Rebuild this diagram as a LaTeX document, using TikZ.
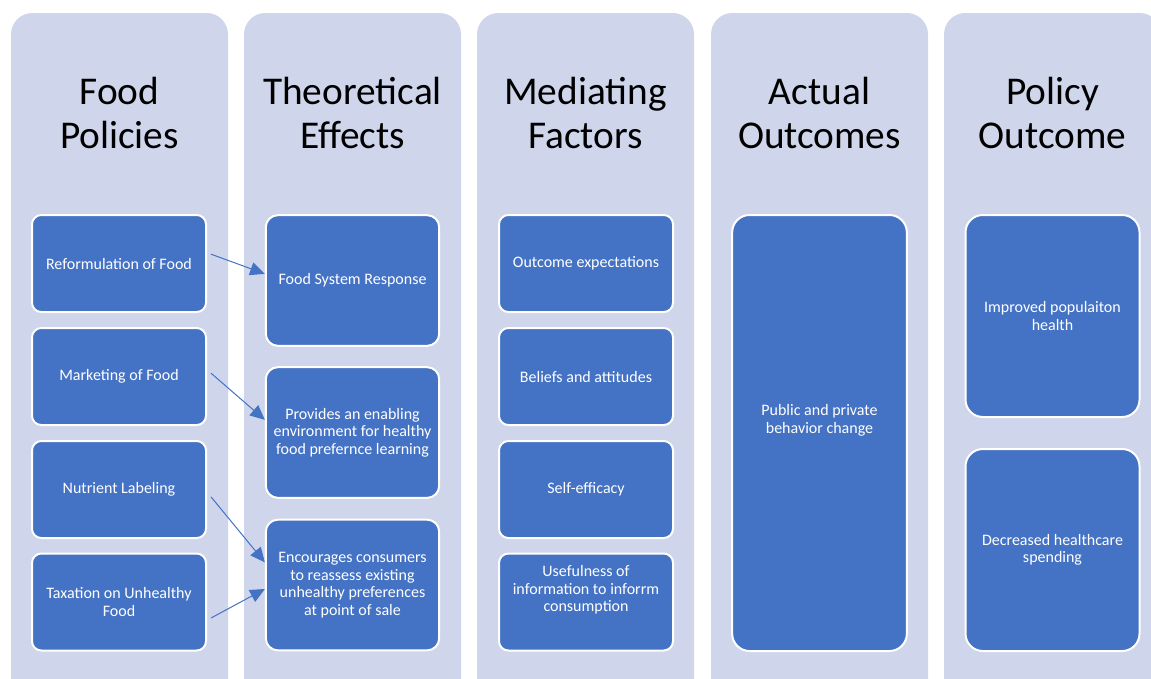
\documentclass[tikz,border=0pt]{standalone}
\usepackage{fontspec}
\setmainfont{Carlito}
\usetikzlibrary{arrows.meta}

\definecolor{colbg}{HTML}{CFD5EA}
\definecolor{boxblue}{HTML}{4472C4}

\begin{document}
\begin{tikzpicture}[x=.75pt,y=-.75pt,
    smallbox/.style={minimum width=130.5pt, minimum height=72.75pt, rounded corners=7pt},
    midbox/.style={minimum width=130pt, minimum height=98pt, rounded corners=9pt},
    tallbox/.style={minimum width=131pt, minimum height=327pt, rounded corners=13pt},
    halfbox/.style={minimum width=130.5pt, minimum height=151.5pt, rounded corners=13pt},
    raised/.style={draw=none, fill=none, yshift=#1}]

        \clip (0,0) rectangle (1151,678);

        \foreach \x in {11,244,477,711,944}
          \fill[colbg, rounded corners=16pt] (\x,13) rectangle ++(217,700);

        \begin{scope}[every node/.style={align=center, font=\fontsize{29.5}{32.4}\selectfont}]
          \node (t0) at (119.5,113) {Food\\Policies};
          \node (t1) at (352.5,113) {Theoretical\\Effects};
          \node (t2) at (585.5,113) {Mediating\\Factors};
          \node (t3) at (819.5,113) {Actual\\Outcomes};
          \node (t4) at (1052.5,113) {Policy\\Outcome};
        \end{scope}

        \begin{scope}[every node/.style={draw=white, line width=1.5pt, fill=boxblue, text=white,
            align=center, font=\fontsize{12}{13.2}\selectfont}]
          \node[smallbox] (p0) at (119,263.5) {Reformulation of Food};
          \node[smallbox] (p1) at (119,376.5) {Marketing of Food};
          \node[smallbox] (p2) at (119,489.5) {Nutrient Labeling};
          \node[smallbox] (p3) at (119,602) {Taxation on Unhealthy\\Food};

          \node[midbox] (e0) at (352.5,280.5) {Food System Response};
          \node[midbox] (e1) at (352.5,432.5) {Provides an enabling\\environment for healthy\\food prefernce learning};
          \node[midbox] (e2) at (352.5,585) {Encourages consumers\\to reassess existing\\unhealthy preferences\\at point of sale};

          \node[smallbox] (m0) at (586,263.5) {Outcome expectations};
          \node[smallbox] (m1) at (586,376.5) {Beliefs and attitudes};
          \node[smallbox] (m2) at (586,489.5) {Self-efficacy};
          \node[smallbox, label={[raised=9pt]center:{Usefulness of\\information to inforrm\\consumption}}] (m3) at (586,602) {};

          \node[tallbox, label={[raised=9.5pt]center:{Public and private\\behavior change}}] (a0) at (819.5,433) {};

          \node[halfbox] (o0) at (1052.5,316) {Improved populaiton\\health};
          \node[halfbox] (o1) at (1052.5,550) {Decreased healthcare\\spending};
        \end{scope}

        \begin{scope}[every edge/.style={draw=boxblue, line width=.75pt, -{Triangle[length=11pt,width=10pt]}}]
          \path ([xshift=3pt,yshift=7pt]p0.east) edge ([yshift=5pt]e0.west);
          \path ([xshift=3pt,yshift=2.5pt]p1.east) edge ([yshift=9.5pt]e1.west);
          \path ([xshift=3pt,yshift=-5.5pt]p2.east) edge ([yshift=17pt]e2.west);
          \path ([xshift=3pt,yshift=-12pt]p3.east) edge ([yshift=-3pt]e2.west);
        \end{scope}

      \end{tikzpicture}
\end{document}
